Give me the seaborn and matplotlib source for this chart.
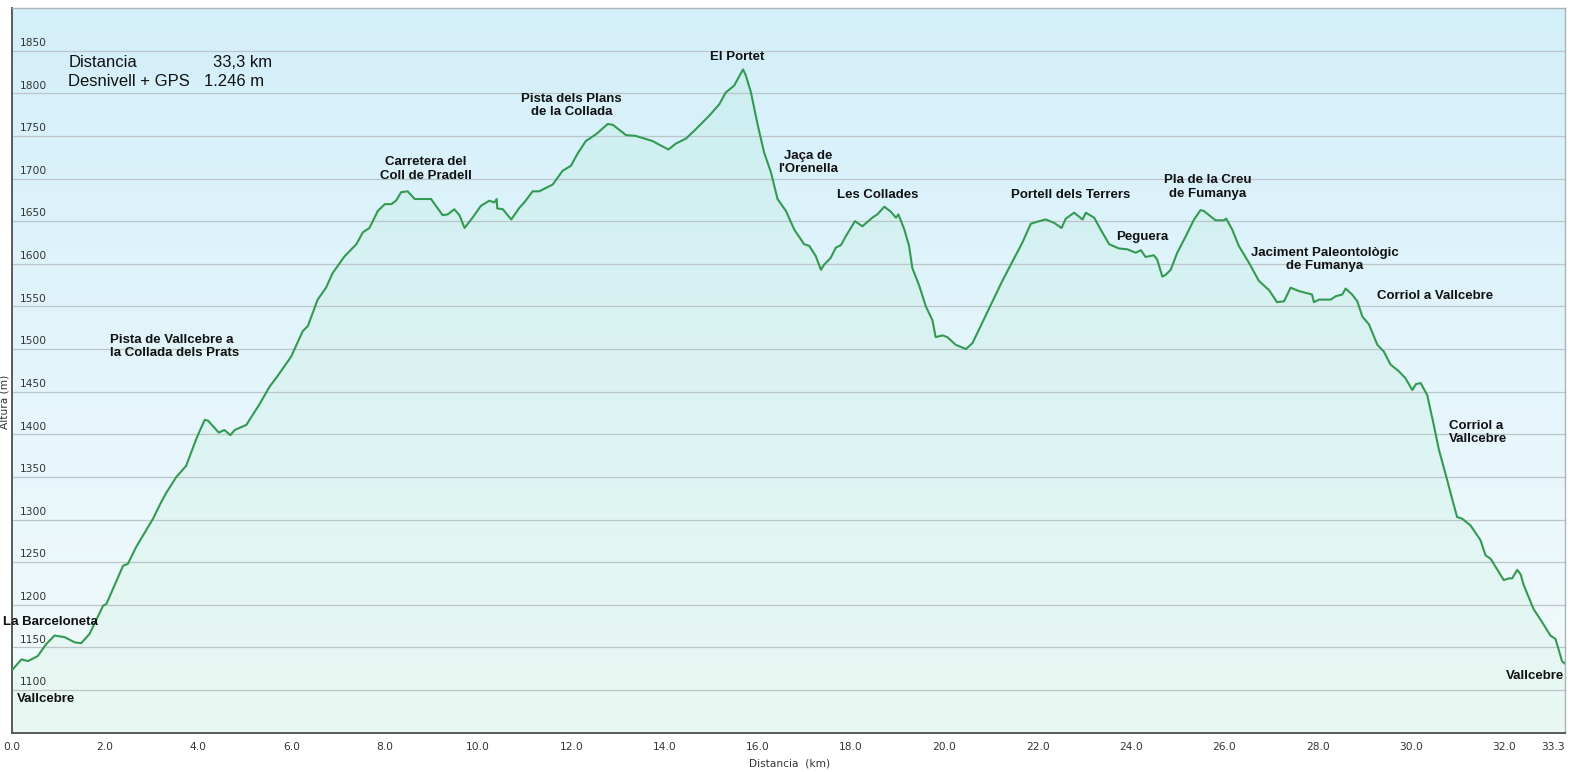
import numpy as np
import matplotlib
matplotlib.use("Agg")
import matplotlib.pyplot as plt
import seaborn as sns
import pandas as pd

# Track profile (km, m)
dist_km = [0.00, 0.21, 0.35, 0.56, 0.74, 0.92, 1.14, 1.35, 1.49, 1.67, 1.96, 2.03,
           2.39, 2.49, 2.67, 3.03, 3.21, 3.31, 3.53, 3.74, 3.96, 4.04, 4.14, 4.21,
           4.44, 4.56, 4.69, 4.78, 5.03, 5.17, 5.31, 5.53, 5.67, 5.99, 6.24, 6.35,
           6.56, 6.74, 6.88, 7.14, 7.39, 7.53, 7.67, 7.85, 8.00, 8.14, 8.24, 8.35,
           8.49, 8.64, 8.81, 8.99, 9.24, 9.35, 9.49, 9.60, 9.71, 9.88, 10.06, 10.24,
           10.35, 10.40, 10.41, 10.53, 10.71, 10.89, 10.99, 11.17, 11.31, 11.60, 11.81,
           11.99, 12.13, 12.31, 12.53, 12.78, 12.89, 13.17, 13.38, 13.74, 14.08, 14.24,
           14.46, 14.67, 14.96, 15.17, 15.31, 15.49, 15.63, 15.68, 15.74, 15.85, 15.99,
           16.13, 16.28, 16.42, 16.60, 16.78, 16.99, 17.10, 17.24, 17.35, 17.42, 17.56,
           17.67, 17.78, 17.88, 18.08, 18.24, 18.45, 18.56, 18.71, 18.85, 18.96, 19.01,
           19.14, 19.24, 19.31, 19.46, 19.60, 19.74, 19.81, 19.96, 20.06, 20.24, 20.46,
           20.60, 20.74, 20.96, 21.24, 21.46, 21.67, 21.85, 22.03, 22.17, 22.35, 22.51,
           22.60, 22.78, 22.96, 23.03, 23.21, 23.35, 23.53, 23.74, 23.92, 24.10, 24.21,
           24.31, 24.49, 24.56, 24.67, 24.74, 24.85, 24.99, 25.17, 25.35, 25.49, 25.56,
           25.81, 25.99, 26.04, 26.17, 26.31, 26.53, 26.74, 26.96, 27.13, 27.28, 27.42,
           27.60, 27.88, 27.92, 28.03, 28.28, 28.39, 28.53, 28.60, 28.74, 28.85, 28.96,
           29.10, 29.28, 29.42, 29.56, 29.74, 29.88, 30.03, 30.11, 30.21, 30.35, 30.49,
           30.60, 30.74, 30.89, 30.99, 31.10, 31.28, 31.49, 31.60, 31.71, 31.89, 31.99,
           32.10, 32.17, 32.28, 32.35, 32.42, 32.63, 32.81, 32.99, 33.10, 33.24, 33.30]
alt_m = [1123, 1136, 1134, 1140, 1154, 1164, 1162, 1156, 1155, 1166, 1199, 1201,
         1246, 1248, 1268, 1301, 1321, 1331, 1350, 1363, 1395, 1405, 1417, 1416,
         1402, 1405, 1399, 1405, 1411, 1423, 1435, 1456, 1466, 1491, 1521, 1527,
         1558, 1572, 1589, 1609, 1623, 1637, 1642, 1662, 1670, 1670, 1674, 1684,
         1685, 1676, 1676, 1676, 1657, 1658, 1664, 1657, 1642, 1654, 1668, 1674,
         1672, 1676, 1665, 1664, 1652, 1666, 1672, 1685, 1685, 1693, 1709,
         1715, 1729, 1744, 1752, 1764, 1763, 1751, 1750, 1744, 1734, 1741,
         1747, 1758, 1774, 1787, 1801, 1809, 1823, 1828, 1821, 1801, 1764,
         1731, 1707, 1676, 1662, 1640, 1623, 1621, 1609, 1593, 1599, 1607,
         1619, 1622, 1632, 1650, 1644, 1654, 1658, 1667, 1661, 1654, 1658,
         1640, 1621, 1595, 1574, 1550, 1534, 1514, 1516, 1514, 1505, 1500,
         1507, 1523, 1548, 1580, 1603, 1625, 1647, 1650, 1652, 1648, 1642,
         1653, 1660, 1652, 1660, 1654, 1640, 1623, 1618, 1617, 1613, 1616,
         1608, 1610, 1605, 1585, 1587, 1593, 1613, 1632, 1652, 1663, 1662,
         1651, 1651, 1653, 1640, 1621, 1601, 1580, 1569, 1555, 1556, 1572,
         1568, 1564, 1555, 1558, 1558, 1562, 1564, 1571, 1564, 1556, 1538,
         1529, 1505, 1497, 1482, 1474, 1466, 1452, 1459, 1460, 1446, 1411,
         1382, 1354, 1323, 1303, 1301, 1293, 1276, 1258, 1254, 1238, 1229,
         1231, 1231, 1241, 1236, 1223, 1195, 1180, 1164, 1160, 1134, 1131]

x_ticks = [0, 2, 4, 6, 8, 10, 12, 14, 16, 18, 20, 22, 24, 26, 28, 30, 32, 33.3]
y_ticks = [1100, 1150, 1200, 1250, 1300, 1350, 1400, 1450, 1500, 1550, 1600,
           1650, 1700, 1750, 1800, 1850]

# Waypoint names and where they sit (km, m)
wp_names = ["El Portet", "Pista dels Plans\nde la Collada", "Carretera del\nColl de Pradell",
            "Pista de Vallcebre a\nla Collada dels Prats", "Jaça de\nl'Orenella",
            "Les Collades", "Portell dels Terrers", "Peguera", "Pla de la Creu\nde Fumanya",
            "Jaciment Paleontològic\nde Fumanya", "Corriol a Vallcebre",
            "La Barceloneta", "Vallcebre", "Vallcebre"]
wp_km = [15.56, 12.0, 8.88, 3.5, 17.08, 18.56, 22.70, 24.24, 25.65, 28.16, 30.52,
         0.82, 0.73, 32.66]
wp_alt = [1842, 1786, 1711, 1503, 1719, 1681, 1681, 1632, 1690, 1605, 1562,
          1180, 1090, 1117]

df = pd.DataFrame({"km": dist_km, "alt": alt_m})

sns.set_style("white")
plt.rcParams["font.family"] = ["DejaVu Sans"]

fig = plt.figure(figsize=(15.72, 7.72), dpi=100)
ax = fig.add_axes([0.00744, 0.0509, 0.988, 0.9387])
ax.set_xlim(0, 33.3)
ax.set_ylim(1050, 1900)

# background gradient, light blue at top fading to near white
top = np.array([211, 239, 250]) / 255
bot = np.array([244, 251, 252]) / 255
t = np.linspace(0, 1, 256)[:, None]
grad = top * (1 - t) + bot * t
ax.imshow(grad[:, None, :], extent=[0, 33.3, 1050, 1900], aspect="auto",
          origin="upper", zorder=0)

ax.fill_between(df["km"], df["alt"], 1050, color="#64dc82", alpha=0.07,
                lw=0, zorder=1)
for v in y_ticks:
    ax.axhline(v, color="#bcc6ca", lw=0.9, zorder=1)
    ax.annotate(str(v), xy=(0, v), xycoords=("axes fraction", "data"),
                xytext=(5.8, 3.4), textcoords="offset points",
                fontsize=7.7, color="#333333", ha="left", va="baseline")

sns.lineplot(data=df, x="km", y="alt", ax=ax, color="#339a52", lw=1.5,
             estimator=None, sort=False, zorder=3)

ax.set_xticks(x_ticks)
ax.set_xticklabels([f"{v:.1f}" for v in x_ticks], fontsize=7.7, color="#333333")
ax.get_xticklabels()[-1].set_horizontalalignment("right")
ax.set_yticks([])
ax.tick_params(axis="x", direction="out", length=3, width=1, color="#555555", pad=4)
ax.set_xlabel("")
ax.set_ylabel("")

for side in ["left", "bottom"]:
    ax.spines[side].set_color("#5a5a5a")
    ax.spines[side].set_linewidth(1.4)
for side in ["top", "right"]:
    ax.spines[side].set_color("#a8b4b8")
    ax.spines[side].set_linewidth(1.0)

for name, xk, ya in zip(wp_names, wp_km, wp_alt):
    ax.text(xk, ya, name, ha="center", va="center", fontsize=9.5,
            fontweight="bold", family="Liberation Sans", color="#111111",
            multialignment="left" if name.startswith("Pista de V") else "center",
            linespacing=1.15, zorder=4)
ax.text(30.82, 1402, "Corriol a\nVallcebre", ha="left", va="center", fontsize=9.5,
        fontweight="bold", family="Liberation Sans", color="#111111",
        linespacing=1.15, zorder=4)

# summary box
ax.text(1.21, 1836, "Distancia", fontsize=12, family="Liberation Sans",
        color="#111111", va="center", ha="left")
ax.text(4.31, 1836, "33,3 km", fontsize=12, family="Liberation Sans",
        color="#111111", va="center", ha="left")
ax.text(1.21, 1813.5, "Desnivell + GPS", fontsize=12, family="Liberation Sans",
        color="#111111", va="center", ha="left")
ax.text(4.12, 1813.5, "1.246 m", fontsize=12, family="Liberation Sans",
        color="#111111", va="center", ha="left")

fig.text(0.5025, 0.0104, "Distancia  (km)", fontsize=7.7, color="#333333",
         ha="center", va="center")
fig.text(0.003, 0.479, "Altura (m)", fontsize=7.7, color="#333333",
         ha="center", va="center", rotation=90)

fig.savefig("out.png", dpi=100)
